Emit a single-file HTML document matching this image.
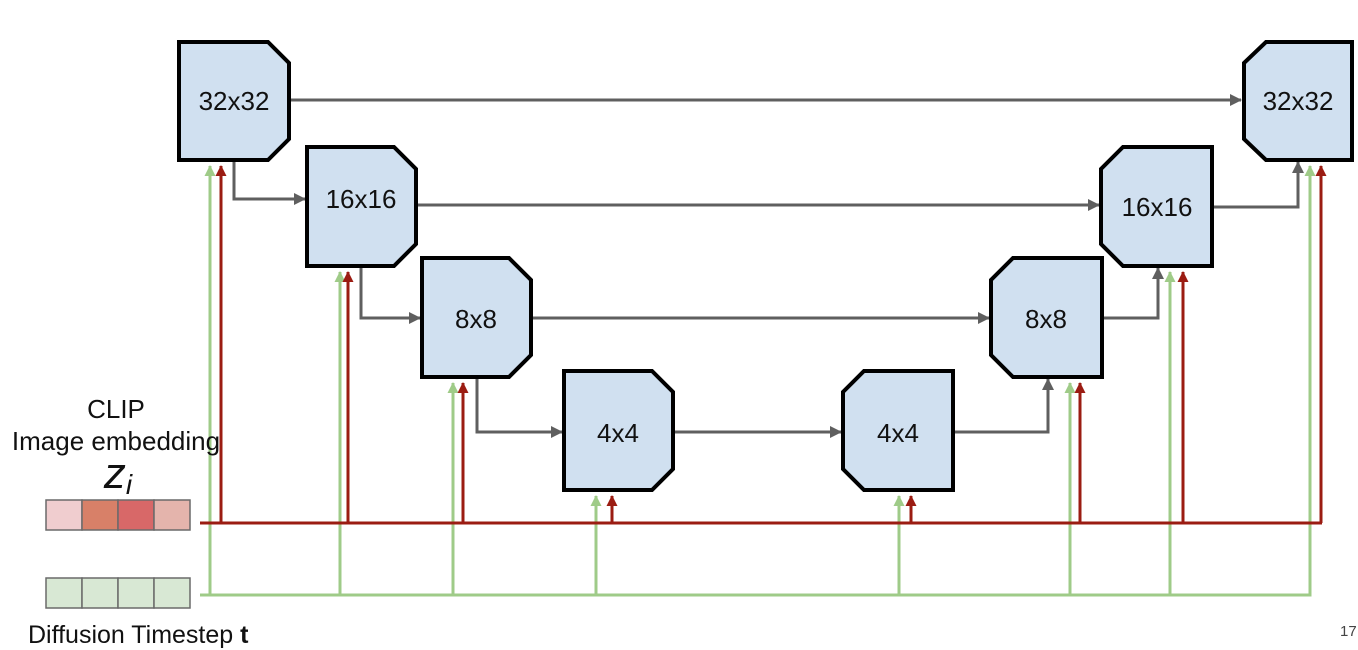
<!DOCTYPE html>
<html><head><meta charset="utf-8"><style>
html,body{margin:0;padding:0;background:#fff;}
svg{display:block;}
text{font-family:"Liberation Sans",sans-serif;}
</style></head><body>
<svg width="1358" height="650" viewBox="0 0 1358 650" xmlns="http://www.w3.org/2000/svg">
<defs>
<marker id="ag" markerWidth="12" markerHeight="12" refX="11" refY="6" orient="auto" markerUnits="userSpaceOnUse"><path d="M0,0 L12,6 L0,12 z" fill="#5f5f5f"/></marker>
<marker id="ar" markerWidth="11" markerHeight="11" refX="10" refY="5.5" orient="auto" markerUnits="userSpaceOnUse"><path d="M0,0 L11,5.5 L0,11 z" fill="#9b1c12"/></marker>
<marker id="agr" markerWidth="11" markerHeight="11" refX="10" refY="5.5" orient="auto" markerUnits="userSpaceOnUse"><path d="M0,0 L11,5.5 L0,11 z" fill="#9fcb88"/></marker>
</defs>

<g stroke="#9fcb88" stroke-width="3" fill="none">
<path d="M200 595 H1310 V168"/>
<line x1="210" y1="595" x2="210" y2="166" marker-end="url(#agr)"/>
<line x1="340" y1="595" x2="340" y2="272" marker-end="url(#agr)"/>
<line x1="453" y1="595" x2="453" y2="383" marker-end="url(#agr)"/>
<line x1="596" y1="595" x2="596" y2="496" marker-end="url(#agr)"/>
<line x1="899" y1="595" x2="899" y2="496" marker-end="url(#agr)"/>
<line x1="1070" y1="595" x2="1070" y2="383" marker-end="url(#agr)"/>
<line x1="1170" y1="595" x2="1170" y2="272" marker-end="url(#agr)"/>
<line x1="1310" y1="200" x2="1310" y2="166" marker-end="url(#agr)"/>
</g>
<g stroke="#9b1c12" stroke-width="3" fill="none">
<line x1="200" y1="523" x2="1322" y2="523"/>
<line x1="221" y1="523" x2="221" y2="166" marker-end="url(#ar)"/>
<line x1="348" y1="523" x2="348" y2="272" marker-end="url(#ar)"/>
<line x1="463" y1="523" x2="463" y2="383" marker-end="url(#ar)"/>
<line x1="612" y1="523" x2="612" y2="496" marker-end="url(#ar)"/>
<line x1="911" y1="523" x2="911" y2="496" marker-end="url(#ar)"/>
<line x1="1080" y1="523" x2="1080" y2="383" marker-end="url(#ar)"/>
<line x1="1183" y1="523" x2="1183" y2="272" marker-end="url(#ar)"/>
<line x1="1321" y1="523" x2="1321" y2="166" marker-end="url(#ar)"/>
</g>
<g stroke="#5f5f5f" stroke-width="3" fill="none">
<line x1="290" y1="100" x2="1241" y2="100" marker-end="url(#ag)"/>
<line x1="416" y1="205" x2="1099" y2="205" marker-end="url(#ag)"/>
<line x1="531" y1="318" x2="989" y2="318" marker-end="url(#ag)"/>
<line x1="673" y1="432" x2="841" y2="432" marker-end="url(#ag)"/>
<path d="M234 160 V199 H305" marker-end="url(#ag)"/>
<path d="M361 266 V318 H420" marker-end="url(#ag)"/>
<path d="M477 377 V432 H562" marker-end="url(#ag)"/>
<path d="M953 432 H1048 V379" marker-end="url(#ag)"/>
<path d="M1102 318 H1158 V268" marker-end="url(#ag)"/>
<path d="M1212 207 H1298 V162" marker-end="url(#ag)"/>
</g>

<g fill="#d0e0f0" stroke="#000" stroke-width="4" stroke-linejoin="miter">
<path d="M179 42 H268 L289 63 V139 L268 160 H179 Z"/>
<path d="M307 147 H394 L416 169 V244 L394 266 H307 Z"/>
<path d="M422 258 H509 L531 280 V355 L509 377 H422 Z"/>
<path d="M564 371 H652 L673 392 V469 L652 490 H564 Z"/>
<path d="M864 371 H953 V490 H864 L843 469 V392 Z"/>
<path d="M1013 258 H1102 V377 H1013 L991 355 V280 Z"/>
<path d="M1123 147 H1212 V266 H1123 L1101 244 V169 Z"/>
<path d="M1266 42 H1352 V160 H1266 L1244 139 V63 Z"/>
</g>
<g font-size="26" fill="#111" text-anchor="middle">
<text x="234" y="110">32x32</text>
<text x="361" y="208">16x16</text>
<text x="476" y="328">8x8</text>
<text x="618" y="442">4x4</text>
<text x="898" y="442">4x4</text>
<text x="1046" y="328">8x8</text>
<text x="1157" y="216">16x16</text>
<text x="1298" y="110">32x32</text>
</g>

<g stroke="#6a6a6a" stroke-width="1.5">
<rect x="46" y="500" width="36" height="30" fill="#f0cdcf"/>
<rect x="82" y="500" width="36" height="30" fill="#d88068"/>
<rect x="118" y="500" width="36" height="30" fill="#d86868"/>
<rect x="154" y="500" width="36" height="30" fill="#e4b4ac"/>
<rect x="46" y="578" width="36" height="30" fill="#d8e8d4"/>
<rect x="82" y="578" width="36" height="30" fill="#d8e8d4"/>
<rect x="118" y="578" width="36" height="30" fill="#d8e8d4"/>
<rect x="154" y="578" width="36" height="30" fill="#d8e8d4"/>
</g>
<g font-size="26" fill="#111" text-anchor="middle">
<text x="116" y="418">CLIP</text>
<text x="116" y="450">Image embedding</text>
<text x="118" y="488" font-family="Liberation Serif" font-style="italic" font-size="44">z<tspan font-size="28" dy="6">i</tspan></text>
</g>
<text x="28" y="643" font-size="25" fill="#111">Diffusion Timestep <tspan font-weight="bold">t</tspan></text>
<text x="1340" y="636" font-size="15" fill="#444">17</text>
</svg>
</body></html>
